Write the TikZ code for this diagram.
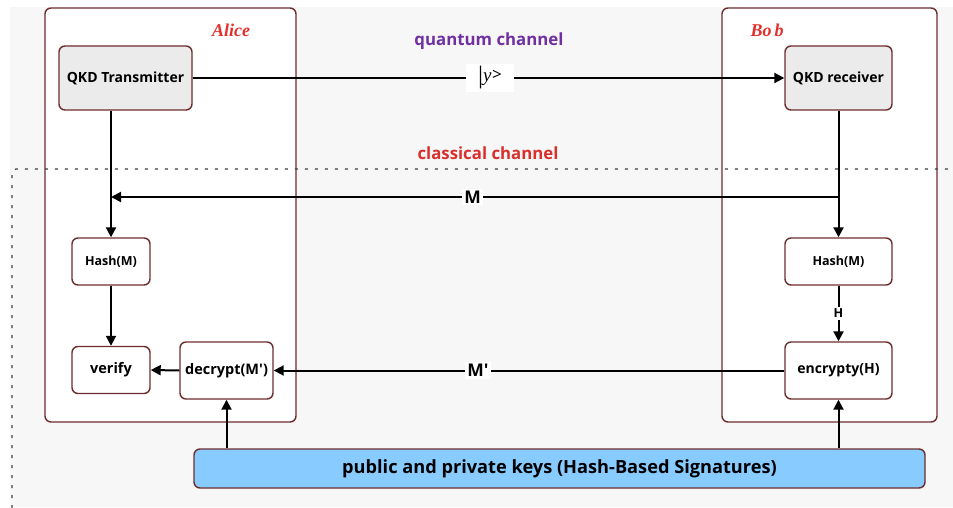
\documentclass[tikz,border=0pt]{standalone}
\usepackage{fontspec}
\setmainfont{Open Sans}
\newfontfamily\namefont{Liberation Serif}
\usetikzlibrary{arrows.meta}
\definecolor{edge}{HTML}{6E2D2D}
\definecolor{canvas}{HTML}{F7F7F7}
\definecolor{boxgray}{HTML}{EBEBEB}
\definecolor{keyblue}{HTML}{87CBFF}
\definecolor{qpurple}{HTML}{7030A0}
\definecolor{cred}{HTML}{D9302C}
\definecolor{namered}{HTML}{E2302C}
\newcommand{\sq}{\textquotesingle}
\tikzset{
  party/.style={draw=edge, line width=1.4pt, fill=white, rounded corners=6pt},
  block/.style={draw=edge, line width=1.4pt, rounded corners=6pt, inner sep=0pt,
    align=center, font=\bfseries\fontsize{12.5}{14}\selectfont, fill=white},
  qkd/.style={block, fill=boxgray, font=\bfseries\fontsize{14}{16}\selectfont},
  flow/.style={line width=2pt, -{Triangle[length=10pt,width=10pt]}},
  tag/.style={fill=white, inner sep=2pt, font=\bfseries\fontsize{17.5}{19}\selectfont},
  title/.style={font=\bfseries\fontsize{16.8}{18}\selectfont},
  who/.style={font=\namefont\itshape\bfseries\fontsize{18}{20}\selectfont, text=namered},
}
\begin{document}
\begin{tikzpicture}[x=1pt, y=-1pt]
\useasboundingbox (0,0) rectangle (953,508);
% canvas
\fill[canvas] (10,7) rectangle (953,507);

% party frames
\draw[party] (45,8) rectangle (296,422);
\draw[party] (722,8) rectangle (937,422);
\node[who] (alice) at (231,30) {Alice};
\node[who] (bob) at (767,30) {Bo\,b};

% classical channel boundary
\draw[black!75, line width=1.2pt, dash pattern=on 3pt off 7pt, rounded corners=4pt]
  (12,508) -- (12,169) -- (953,169);

% channel titles
\node[title, text=qpurple] (qc) at (489,41) {quantum channel};
\node[title, text=cred] (cc) at (488,153) {classical channel};

% nodes
\node[qkd, minimum width=133pt, minimum height=64pt] (tx) at (125.5,78) {QKD Transmitter};
\node[qkd, minimum width=107pt, minimum height=64pt] (rx) at (838.5,78) {QKD receiver};
\node[block, minimum width=78pt, minimum height=47pt] (hashA) at (111,261.5) {Hash(M)};
\node[block, minimum width=107pt, minimum height=47pt] (hashB) at (838.5,261.5) {Hash(M)};
\node[block, minimum width=78pt, minimum height=47pt, font=\bfseries\fontsize{14.5}{16}\selectfont] (verify) at (111,370) {verify};
\node[block, minimum width=93pt, minimum height=57pt, font=\bfseries\fontsize{14.5}{16}\selectfont] (decrypt) at (226.5,370.5) {decrypt(M\sq)};
\node[block, minimum width=107pt, minimum height=57pt, font=\bfseries\fontsize{14}{16}\selectfont] (enc) at (838.5,370.5) {encrypty(H)};
\node[block, fill=keyblue, minimum width=731pt, minimum height=39pt,
  font=\bfseries\fontsize{18.2}{20}\selectfont] (keys) at (559.5,468.5)
  {public and private keys (Hash-Based Signatures)};

% quantum link with the |y> state label
\draw[flow] (tx.east) -- node[fill=white, inner sep=0pt, minimum width=48pt, minimum height=28pt,
  font=\fontsize{19}{20}\selectfont, pos=0.5025] (ket)
  {\raisebox{-2pt}{\namefont\fontsize{25}{26}\selectfont|}\textit{\namefont y}\kern0.5pt\raisebox{1pt}{\fontsize{17}{18}\selectfont>}} (rx.west);

% key distillation down to the hashes
\coordinate (mA) at (111,197);
\coordinate (mB) at (838.5,197);
\draw[flow] (tx.south -| hashA.north) -- (hashA.north);
\draw[flow] (rx.south) -- (hashB.north);
\draw[flow] (mB) -- node[tag, pos=0.503] (mlab) {M} (mA);

% signing and verification
\draw[flow] (hashB.south) -- node[fill=white, inner sep=2pt, font=\bfseries\fontsize{12.5}{14}\selectfont] (hlab) {H} (enc.north);
\draw[flow] (enc.west) -- node[tag, pos=0.6] (mplab) {M\sq} (decrypt.east);
\draw[flow] (decrypt.west) -- (verify.east);
\draw[flow] (hashA.south) -- (verify.north);

% keys feeding both sides
\draw[flow] (keys.north -| decrypt.south) -- (decrypt.south);
\draw[flow] (keys.north -| enc.south) -- (enc.south);
\end{tikzpicture}
\end{document}
